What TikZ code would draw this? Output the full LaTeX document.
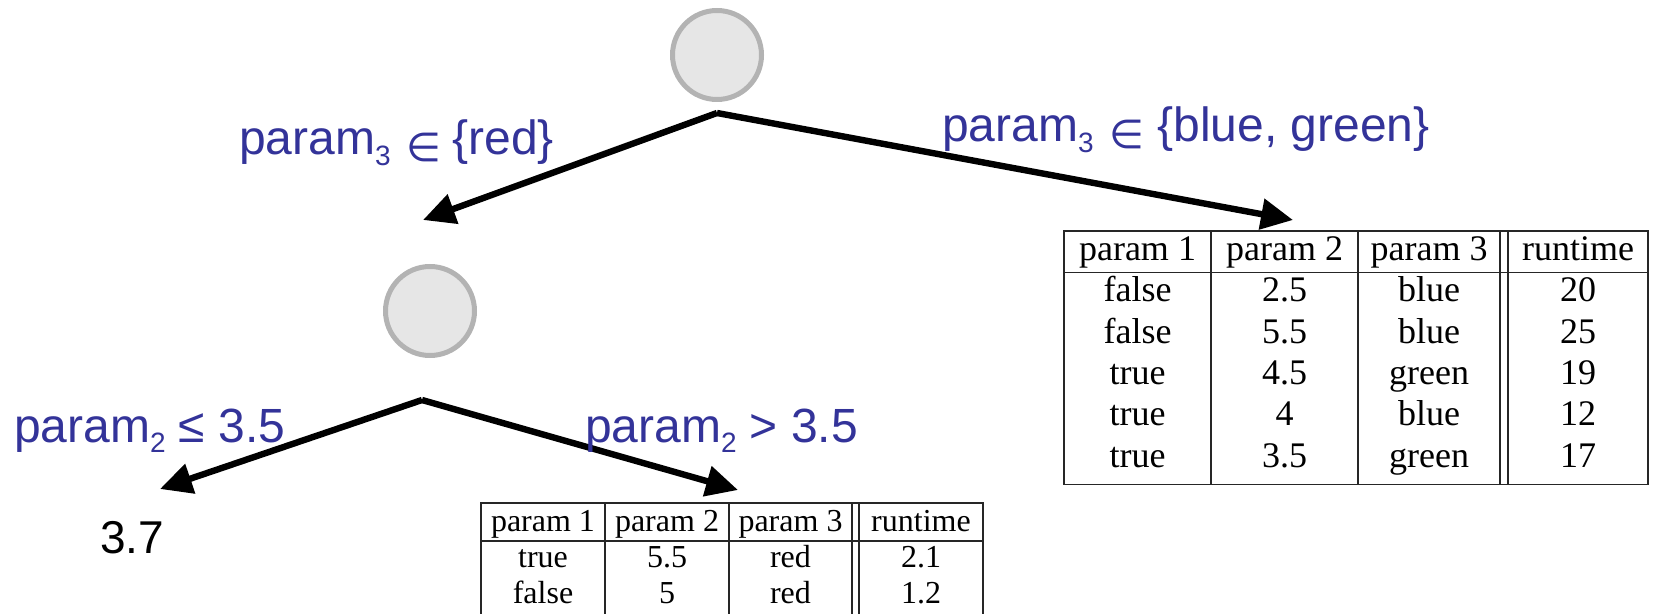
\documentclass[tikz,border=0pt]{standalone}
\usepackage{fontspec}
\setmainfont{Liberation Sans}
\newfontfamily\tabfont{Liberation Serif}
\newfontfamily\symfont{DejaVu Sans}
\usetikzlibrary{arrows.meta}

\definecolor{lblblue}{RGB}{51,51,153}
\definecolor{splitfill}{RGB}{230,230,230}
\definecolor{splitrim}{RGB}{179,179,179}

% subscript index and set-membership sign used in the edge labels
\newcommand\idx[1]{\raisebox{-5.5pt}{\fontsize{14pt}{14pt}\selectfont #1}}
\newcommand\memb{\raisebox{-3.5pt}{\symfont\fontsize{20pt}{20pt}\selectfont ∈}}

\tikzset{
  splitnode/.style={circle, draw=splitrim, fill=splitfill, line width=2.5pt,
    minimum size=44.5pt, inner sep=0pt},
  branch/.style={line width=3.2pt, -{Triangle[length=16pt,width=15pt]}},
  cond/.style={text=lblblue, font=\fontsize{24pt}{24pt}\selectfont,
    anchor=base west, inner sep=0pt, outer sep=0pt},
  leafval/.style={text=black, font=\fontsize{23pt}{23pt}\selectfont,
    anchor=base west, inner sep=0pt, outer sep=0pt},
  tabrule/.style={line width=0.8pt, draw=black!85},
  bigcell/.style={font=\tabfont\fontsize{18pt}{18pt}\selectfont,
    anchor=base, inner sep=0pt, outer sep=0pt},
  smallcell/.style={font=\tabfont\fontsize{16pt}{16pt}\selectfont,
    anchor=base, inner sep=0pt, outer sep=0pt},
}

\begin{document}
\begin{tikzpicture}[x=0.5pt, y=-0.5pt]
\useasboundingbox (0,0) rectangle (1653,614);

% ---- split nodes and fork points
\node[splitnode] (root) at (717,55) {};
\node[splitnode] (mid)  at (430,311) {};
\coordinate (rootfork) at (717,113);
\coordinate (midfork)  at (422,400);

% ---- arrow targets
\coordinate (redtip)   at (423,220);
\coordinate (bgtip)    at (1293,220);
\coordinate (lowtip)   at (160,489);
\coordinate (hightip)  at (738,490);

\draw[branch] (rootfork) -- (redtip);
\draw[branch] (rootfork) -- (bgtip);
\draw[branch] (midfork) -- (lowtip);
\draw[branch] (midfork) -- (hightip);

% ---- branch conditions
\node[cond] (condred)  at (239,155) {param\idx{3}\hspace{8pt}\memb\hspace{5.5pt}\{red\}};
\node[cond] (condbg)   at (942,142) {param\idx{3}\hspace{8pt}\memb\hspace{6.5pt}\{blue, green\}};
\node[cond] (condlow)  at (14,442)  {param\idx{2} ≤ 3.5};
\node[cond] (condhigh) at (585,442) {param\idx{2} > 3.5};

% ---- leaf value
\node[leafval] (leaf) at (100,553) {3.7};

% ---- table of the blue/green branch
\draw[tabrule] (1064,231) rectangle (1648,484.5);
\draw[tabrule] (1064,272.5) -- (1648,272.5);
\foreach \x in {1211,1358,1500,1508}
  \draw[tabrule] (\x,231) -- (\x,484.5);
\foreach \a/\b/\c/\d [count=\i from 0] in
  {param 1/param 2/param 3/runtime,
   false/2.5/blue/20,
   false/5.5/blue/25,
   true/4.5/green/19,
   true/4/blue/12,
   true/3.5/green/17}
{
  \pgfmathsetmacro\yb{260.5+41.3*\i}
  \node[bigcell] (bt-\i-1) at (1137.5,\yb) {\a};
  \node[bigcell] (bt-\i-2) at (1284.5,\yb) {\b};
  \node[bigcell] (bt-\i-3) at (1429,\yb)   {\c};
  \node[bigcell] (bt-\i-4) at (1578,\yb)   {\d};
}

% ---- table of the param2 > 3.5 branch (runs off the lower edge)
\draw[tabrule] (481,614) -- (481,503) -- (983,503) -- (983,614);
\draw[tabrule] (481,541) -- (983,541);
\foreach \x in {605,729,852,859}
  \draw[tabrule] (\x,503) -- (\x,614);
\foreach \a/\b/\c/\d [count=\i from 0] in
  {param 1/param 2/param 3/runtime,
   true/5.5/red/2.1,
   false/5/red/1.2}
{
  \pgfmathsetmacro\yb{531+36*\i}
  \node[smallcell] (st-\i-1) at (543,\yb) {\a};
  \node[smallcell] (st-\i-2) at (667,\yb) {\b};
  \node[smallcell] (st-\i-3) at (790.5,\yb) {\c};
  \node[smallcell] (st-\i-4) at (921,\yb) {\d};
}
\end{tikzpicture}
\end{document}
